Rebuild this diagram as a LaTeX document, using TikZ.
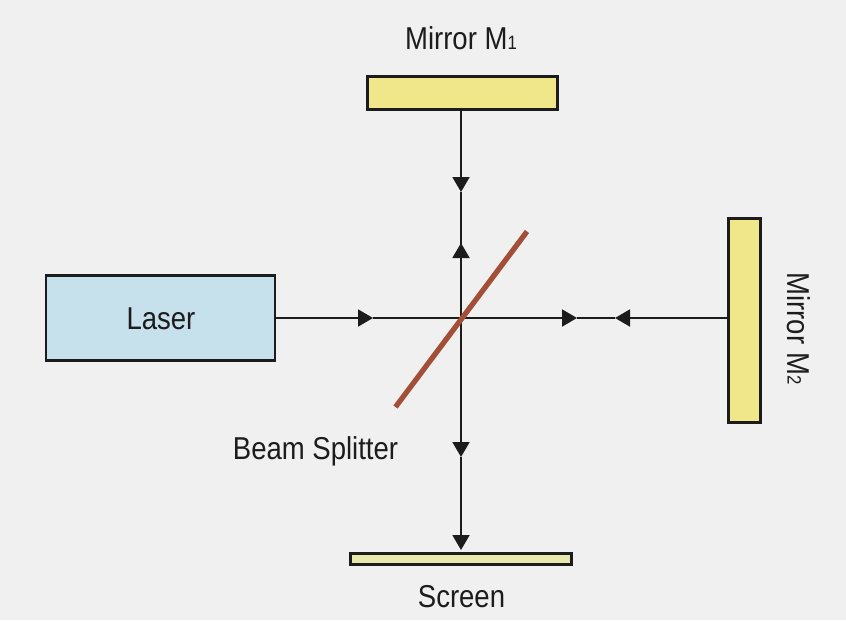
\documentclass[tikz,border=0pt]{standalone}
\usepackage{fontspec}
\setmainfont[FakeStretch=0.87]{Liberation Sans}
\usetikzlibrary{arrows.meta}
\definecolor{panelbg}{HTML}{F0F0F0}
\definecolor{laserblue}{HTML}{C6E0EC}
\definecolor{mirroryellow}{HTML}{F0E68A}
\definecolor{screenyellow}{HTML}{E6E8AC}
\definecolor{splitterbrown}{HTML}{A34F38}
\definecolor{inkblack}{HTML}{1C1C1C}
\newcommand{\smalldigit}[1]{{\fontsize{11}{11}\selectfont #1}}
\tikzset{
  part/.style={draw=inkblack, line width=1.7pt, inner sep=0pt, outer sep=0pt},
  beam/.style={draw=inkblack, line width=1.1pt},
  beamtip/.style={beam, -{Triangle[length=0.3cm, width=0.34cm]}},
  caption/.style={font=\fontsize{18}{20}\selectfont, text=inkblack, inner sep=0pt}
}
\begin{document}
\begin{tikzpicture}
  \fill[panelbg] (0,0) rectangle (16.92,12.4);
  \useasboundingbox (0,0) rectangle (16.92,12.4);
  % parts
  \node[part, fill=laserblue, minimum width=4.58cm, minimum height=1.7cm] (laser) at (3.21,6.04) {};
  \node[part, fill=mirroryellow, minimum width=3.8cm, minimum height=0.66cm] (mirrorone) at (9.25,10.54) {};
  \node[part, fill=mirroryellow, minimum width=0.64cm, minimum height=4.08cm] (mirrortwo) at (14.89,5.99) {};
  \node[part, fill=screenyellow, minimum width=4.42cm, minimum height=0.22cm] (screen) at (9.22,1.22) {};
  \coordinate (split) at (9.22,6.04);
  \coordinate (splitlow) at (7.91,4.26);
  \coordinate (splithigh) at (10.54,7.77);
  % arrow tips on the beams
  \coordinate (tiplaser) at (7.46,6.04);
  \coordinate (tipright) at (11.54,6.04);
  \coordinate (tipback) at (12.3,6.04);
  \coordinate (tipdown) at (9.22,8.56);
  \coordinate (tipup) at (9.22,7.54);
  \coordinate (tiplow) at (9.22,3.26);
  \coordinate (tipscreen) at (9.22,1.4);
  % beams
  \draw[beamtip] (laser.east |- split) -- (tiplaser);
  \draw[beam] (tiplaser) -- (split);
  \draw[beamtip] (split) -- (tipright);
  \draw[beamtip] (mirrortwo.west |- split) -- (tipback);
  \draw[beam] (tipright) -- (tipback);
  \draw[beamtip] (mirrorone.south -| split) -- (tipdown);
  \draw[beam] (tipdown) -- (split);
  \draw[beamtip] (split) -- (tipup);
  \draw[beamtip] (split) -- (tiplow);
  \draw[beamtip] (tiplow) -- (tipscreen);
  \draw[splitterbrown, line width=3pt] (splitlow) -- (splithigh);
  % labels
  \node[caption] (laserlabel) at (3.22,6.02) {Laser};
  \node[caption] (mirroronelabel) at (9.22,11.64) {Mirror M\smalldigit{1}};
  \node[caption, rotate=-90] (mirrortwolabel) at (15.98,5.83) {Mirror M\smalldigit{2}};
  \node[caption] (splitterlabel) at (6.31,3.38) {Beam Splitter};
  \node[caption] (screenlabel) at (9.23,0.46) {Screen};
\end{tikzpicture}
\end{document}
